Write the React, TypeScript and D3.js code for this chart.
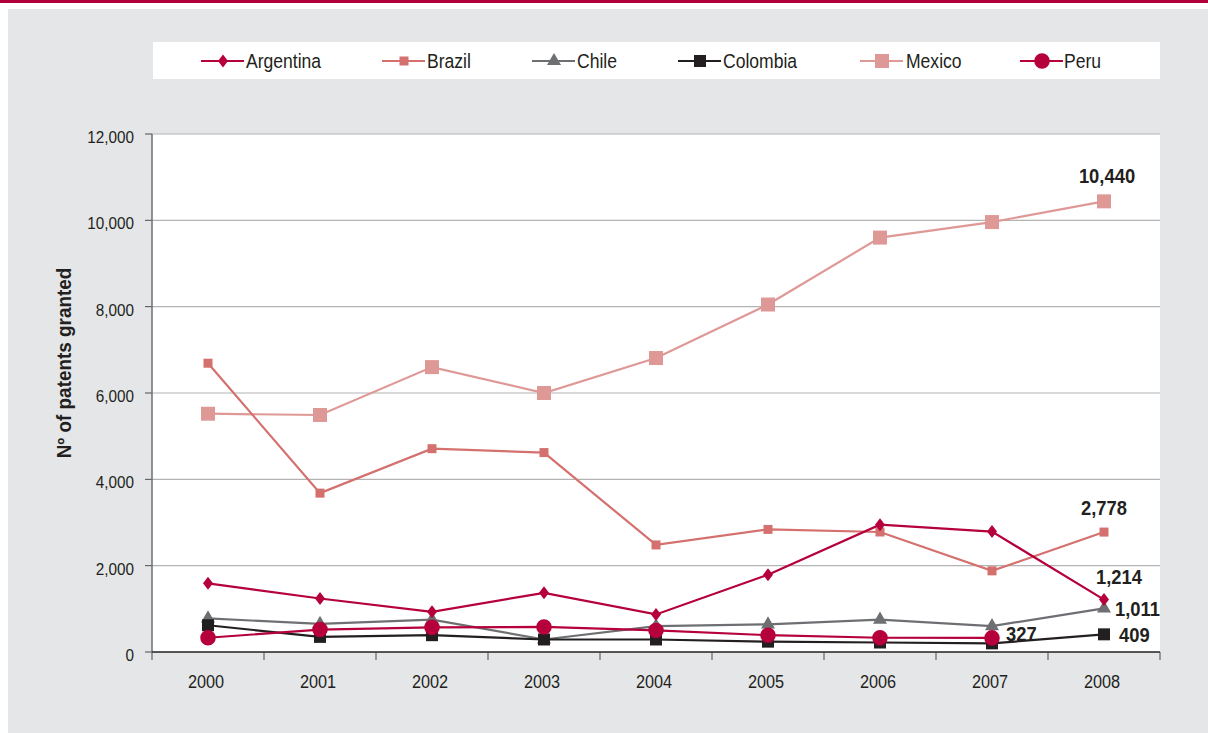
import * as d3 from "d3";

const years = ["2000", "2001", "2002", "2003", "2004", "2005", "2006", "2007", "2008"];
const argentina = [1590, 1240, 930, 1370, 870, 1790, 2950, 2790, 1214];
const brazil = [6690, 3680, 4710, 4620, 2480, 2840, 2780, 1880, 2778];
const chile = [780, 650, 750, 290, 600, 640, 750, 600, 1011];
const colombia = [620, 350, 390, 290, 290, 240, 220, 200, 409];
const mexico = [5520, 5490, 6600, 6000, 6810, 8050, 9600, 9960, 10440];
const peru = [330, 520, 570, 580, 500, 390, 330, 327, null];
const yTicks = [0, 2000, 4000, 6000, 8000, 10000, 12000];

type Mark = "diamond" | "smallSquare" | "triangle" | "square" | "bigSquare" | "circle";
type Series = { name: string; values: (number | null)[]; color: string; mark: Mark };

const series: Series[] = [
  { name: "Argentina", values: argentina, color: "#b5003b", mark: "diamond" },
  { name: "Brazil", values: brazil, color: "#d4706e", mark: "smallSquare" },
  { name: "Chile", values: chile, color: "#6e6f72", mark: "triangle" },
  { name: "Colombia", values: colombia, color: "#231f20", mark: "square" },
  { name: "Mexico", values: mexico, color: "#de9996", mark: "bigSquare" },
  { name: "Peru", values: peru, color: "#b5003b", mark: "circle" },
];
// light lines first, crimson on top
const drawOrder = ["Mexico", "Brazil", "Chile", "Colombia", "Peru", "Argentina"];

// end labels: series, year index, text, dx, dy, anchor
const endLabels: [string, number, string, number, number, string][] = [
  ["Mexico", 8, "10,440", 3, -18, "middle"],
  ["Brazil", 8, "2,778", 0, -17, "middle"],
  ["Argentina", 8, "1,214", 15, -16, "middle"],
  ["Chile", 8, "1,011", 11, 8, "start"],
  ["Colombia", 8, "409", 15, 8, "start"],
  ["Peru", 7, "327", 14, 3, "start"],
];

const FONT = "'Liberation Sans', Arial, sans-serif";
const W = 1208;
const H = 733;
const plot = { left: 152, right: 1160, top: 134, bottom: 652 };

// the source uses a slightly condensed face, so squeeze horizontally
function CText(props: {
  x: number;
  y: number;
  size: number;
  sx?: number;
  anchor?: string;
  bold?: boolean;
  children: string;
}) {
  const { x, y, size, sx = 0.9, anchor = "start", bold = false, children } = props;
  return (
    <g transform={`translate(${x},${y})`}>
      <text
        transform={`scale(${sx},1)`}
        textAnchor={anchor}
        fontSize={size}
        fontWeight={bold ? "bold" : "normal"}
        fill="#231f20"
      >
        {children}
      </text>
    </g>
  );
}

function Marker({ mark, color, x, y }: { mark: Mark; color: string; x: number; y: number }) {
  let path: string;
  if (mark === "diamond") {
    path = "M0,-6.5L5,0L0,6.5L-5,0Z";
  } else {
    const sym = {
      smallSquare: [d3.symbolSquare, 81],
      triangle: [d3.symbolTriangle, 85],
      square: [d3.symbolSquare, 144],
      bigSquare: [d3.symbolSquare, 196],
      circle: [d3.symbolCircle, 190],
    }[mark] as [d3.SymbolType, number];
    path = d3.symbol().type(sym[0]).size(sym[1])() ?? "";
  }
  return <path d={path} transform={`translate(${x},${y})`} fill={color} />;
}

export default function App() {
  const x = d3.scaleBand().domain(years).range([plot.left, plot.right]).padding(0);
  const cx = (i: number) => (x(years[i]) ?? 0) + x.bandwidth() / 2;
  const y = d3.scaleLinear().domain([0, 12000]).range([plot.bottom, plot.top]);

  const line = d3
    .line<number | null>()
    .defined((d) => d != null)
    .x((_, i) => cx(i))
    .y((d) => y(d as number));

  const legendItems = [
    { name: "Argentina", mx: 223, tx: 246 },
    { name: "Brazil", mx: 404, tx: 427 },
    { name: "Chile", mx: 554, tx: 577 },
    { name: "Colombia", mx: 700, tx: 723 },
    { name: "Mexico", mx: 882, tx: 906 },
    { name: "Peru", mx: 1042, tx: 1064 },
  ];

  return (
    <svg
      width={W}
      height={H}
      style={{ position: "fixed", left: 0, top: 0, display: "block" }}
      fontFamily={FONT}
    >
      <rect width={W} height={H} fill="#ffffff" />
      <rect x={0} y={0} width={W} height={3} fill="#b0003a" />
      <rect x={8} y={9} width={W - 8} height={H - 9} fill="#e5e6e8" />

      {/* legend */}
      <rect x={153} y={42} width={1007} height={37} fill="#ffffff" />
      {legendItems.map((it) => {
        const s = series.find((d) => d.name === it.name)!;
        return (
          <g key={it.name}>
            <line x1={it.mx - 22} x2={it.mx + 21} y1={61} y2={61} stroke={s.color} strokeWidth={2} />
            <Marker mark={s.mark} color={s.color} x={it.mx} y={61} />
            <CText x={it.tx} y={68} size={19.5} sx={0.9}>
              {it.name}
            </CText>
          </g>
        );
      })}

      {/* plot area */}
      <rect
        x={plot.left}
        y={plot.top}
        width={plot.right - plot.left}
        height={plot.bottom - plot.top}
        fill="#ffffff"
      />
      {yTicks.map((t) => (
        <g key={t}>
          {t > 0 && (
            <line x1={plot.left} x2={plot.right} y1={y(t)} y2={y(t)} stroke="#b3b3b3" strokeWidth={1.2} />
          )}
          <line x1={plot.left - 7} x2={plot.left} y1={y(t)} y2={y(t)} stroke="#4d4d4f" strokeWidth={1} />
          <CText x={134} y={y(t) + 9} size={17} sx={0.9} anchor="end">
            {d3.format(",")(t)}
          </CText>
        </g>
      ))}
      <line x1={plot.left} x2={plot.left} y1={plot.top} y2={plot.bottom} stroke="#6d6e71" strokeWidth={1.5} />
      <line x1={plot.left} x2={plot.right} y1={plot.bottom} y2={plot.bottom} stroke="#231f20" strokeWidth={1.5} />
      {years.map((yr, i) => (
        <g key={yr}>
          <line
            x1={x(yr)}
            x2={x(yr)}
            y1={plot.bottom}
            y2={plot.bottom + 8}
            stroke="#4d4d4f"
            strokeWidth={1}
          />
          <CText x={cx(i) - 2} y={688} size={18.5} sx={0.88} anchor="middle">
            {yr}
          </CText>
        </g>
      ))}
      <line x1={plot.right} x2={plot.right} y1={plot.bottom} y2={plot.bottom + 8} stroke="#4d4d4f" />
      <g transform={`translate(71,${(plot.top + plot.bottom) / 2 - 30}) rotate(-90)`}>
        <CText x={0} y={0} size={19.5} sx={0.97} anchor="middle" bold>
          Nº of patents granted
        </CText>
      </g>

      {/* series */}
      {drawOrder.map((name) => {
        const s = series.find((d) => d.name === name)!;
        return (
          <g key={name}>
            <path d={line(s.values) ?? ""} fill="none" stroke={s.color} strokeWidth={2.2} />
            {s.values.map((v, i) =>
              v == null ? null : <Marker key={i} mark={s.mark} color={s.color} x={cx(i)} y={y(v)} />,
            )}
          </g>
        );
      })}

      {endLabels.map(([name, i, label, dx, dy, anchor]) => {
        const s = series.find((d) => d.name === name)!;
        return (
          <CText
            key={name}
            x={cx(i) + dx}
            y={y(s.values[i] as number) + dy}
            size={20}
            sx={0.92}
            anchor={anchor}
            bold
          >
            {label}
          </CText>
        );
      })}
    </svg>
  );
}
